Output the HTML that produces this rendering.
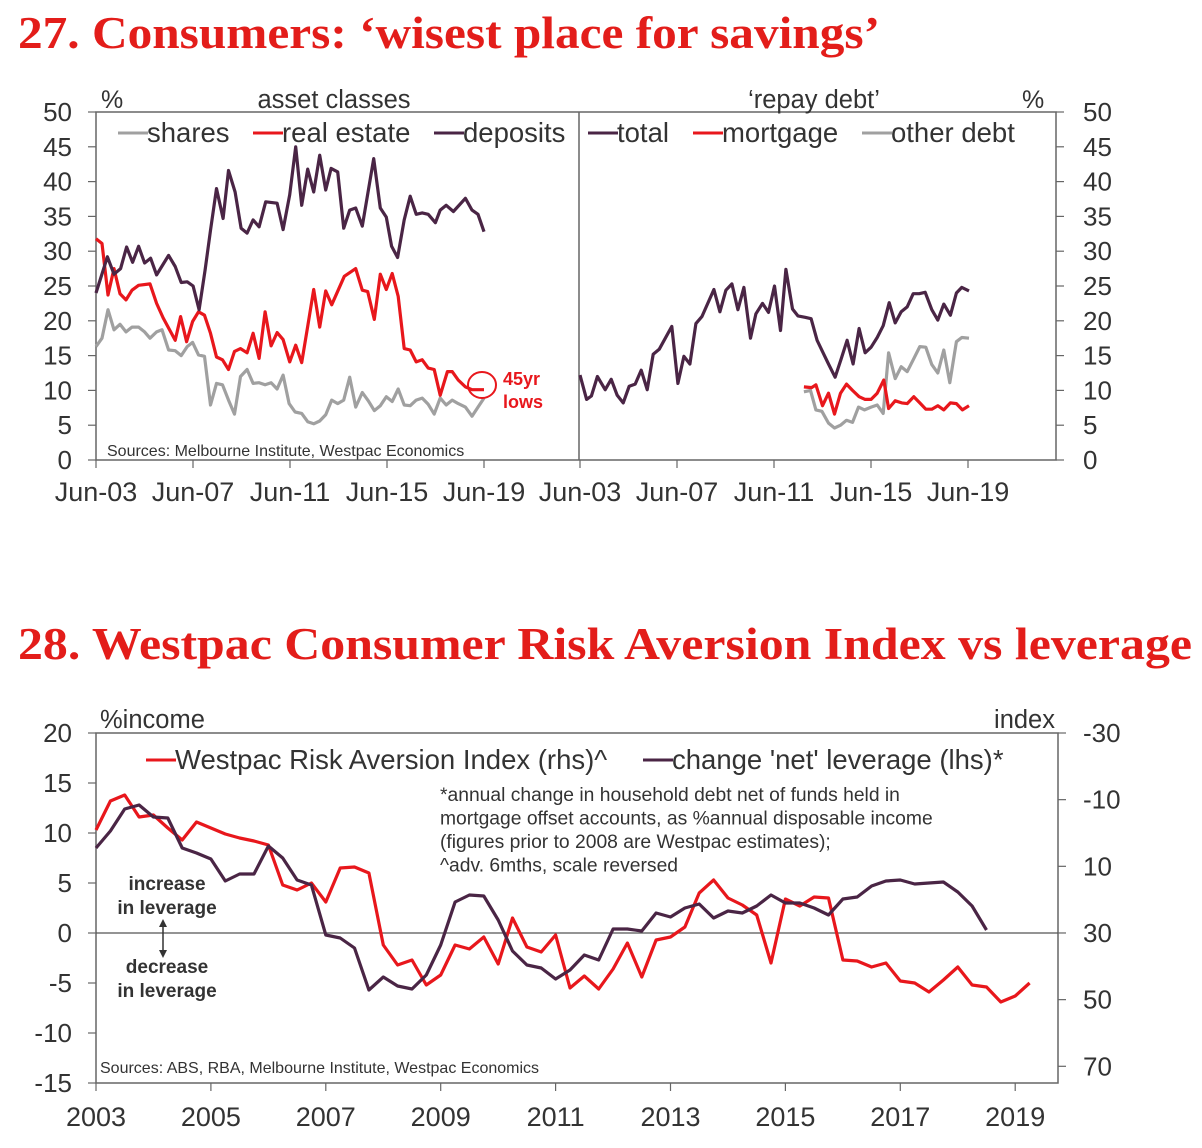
<!DOCTYPE html>
<html><head><meta charset="utf-8"><style>
html,body{margin:0;padding:0;background:#fff;}
svg{display:block;font-family:"Liberation Sans",Arial,sans-serif;}
.t{fill:#333;}
</style></head><body>
<svg id="c" width="1202" height="1148" viewBox="0 0 1202 1148" xmlns="http://www.w3.org/2000/svg">
<text x="18" y="48" font-family="Liberation Serif,serif" font-weight="bold" font-size="45" fill="#e31d1a" textLength="862" lengthAdjust="spacingAndGlyphs">27. Consumers: ‘wisest place for savings’</text>
<text x="18" y="659" font-family="Liberation Serif,serif" font-weight="bold" font-size="45" fill="#e31d1a" textLength="1174" lengthAdjust="spacingAndGlyphs">28. Westpac Consumer Risk Aversion Index vs leverage</text>
<g id="topg"></g>
<g id="botg"></g>
</svg>
<script>
// ---- Chart 27 data (x = quarters since Jun-03) ----
const depQ=[0,1.9,3,4.1,5.1,6.1,7.1,8.1,9.1,10.1,12.1,13.2,14.2,15.2,16.2,17.2,18.2,19.1,20.1,21.2,22.1,23.2,24.2,25.2,26.2,27.2,28.3,30.2,31.2,32.3,33.3,34.3,35.3,36.3,37.3,38.3,39.2,40.3,41.3,42.3,43.3,44.4,46.3,47.4,48.4,49.3,50.3,51.4,52.4,53.4,54.4,55.4,56.6,57.4,58.4,59.6,61.6,62.7,63.7,64.7];
const depV=[24.0,29.2,26.7,27.5,30.6,28.4,30.7,28.3,29.0,26.6,29.4,27.8,25.5,25.6,25.0,21.6,27.3,33.0,39.0,34.7,41.6,38.5,33.3,32.6,34.5,33.5,37.1,36.9,33.1,38.1,45.0,36.6,41.8,38.5,43.8,38.8,41.9,41.4,33.3,35.9,36.2,33.6,43.3,36.2,34.9,30.7,29.1,34.5,37.9,35.3,35.5,35.3,34.1,35.9,36.6,35.7,37.6,35.9,35.3,32.8];
const reQ=[0,1,2,3,4,5,6,7.1,9,10.1,11.2,13.2,14.1,15.1,16.1,17.1,18.1,19.1,20.1,21.1,22.1,23.1,24.1,25.2,26.2,27.2,28.2,29.2,30.2,31.2,32.3,33.3,34.3,35.3,36.3,37.3,38.3,39.3,41.4,43.3,44.4,45.3,46.4,47.4,48.4,49.4,50.4,51.4,52.4,53.4,54.4,55.4,56.4,57.4,58.6,59.4,60.4,61.6,62.7,64.7];
const reV=[31.8,31.1,23.7,27.5,23.9,23.0,24.4,25.1,25.3,22.5,20.4,17.2,20.6,17.0,19.9,21.3,20.8,18.2,14.8,14.4,13.0,15.6,16.0,15.4,18.2,14.6,21.3,16.4,18.3,17.3,14.1,16.5,14.0,19.2,24.5,19.1,24.3,22.3,26.4,27.5,24.4,24.2,20.2,26.7,24.5,26.8,23.5,16.0,15.8,14.1,14.4,13.2,13.0,9.3,12.7,12.7,11.5,10.5,10.1,10.1];
const shQ=[0,1,2,3,4,5,6,7.1,8.1,9,10.1,11,12.1,13.2,14.2,15.2,16.1,17.1,18.1,19.1,20.1,21.1,22.1,23.1,24.1,25.2,26.2,27.2,28.2,29.2,30.2,31.2,32.2,33.2,34.3,35.3,36.3,37.3,38.3,39.3,40.3,41.3,42.3,43.3,44.4,45.4,46.4,47.4,48.4,49.4,50.4,51.4,52.4,53.4,54.4,55.4,56.4,57.4,58.4,59.4,60.4,61.6,62.7,63.7,64.7];
const shV=[16.3,17.5,21.6,18.7,19.5,18.4,19.1,19.1,18.4,17.5,18.4,18.7,15.8,15.7,15.0,16.3,16.9,15.1,14.9,7.9,11.0,10.8,8.6,6.6,12.0,13.0,11.0,11.1,10.8,11.1,10.2,12.2,8.1,6.9,6.7,5.5,5.2,5.6,6.5,8.6,8.1,8.6,11.9,7.6,9.7,8.5,7.1,7.8,9.1,8.4,10.2,7.9,7.8,8.6,8.9,8.0,6.6,8.9,7.9,8.6,8.1,7.6,6.3,7.6,8.9];
const totQ=[0,1.1,1.9,2.9,4.2,5.2,6.2,7.2,8.2,9.2,10.2,11.2,12.2,13.2,15.3,16.3,17.3,18.3,19.3,20.3,22.3,23.3,24.3,25.3,26.3,27.3,28.4,29.3,30.4,31.4,32.4,33.4,34.3,35.4,36.3,37.5,38.5,39.5,40.5,41.4,42.5,43.5,44.5,45.5,46.5,47.5,48.5,49.5,50.5,51.5,52.5,53.5,54.5,55.5,56.5,57.5,58.6,59.6,60.6,61.7,62.7,63.6,64.8];
const totV=[12.2,8.7,9.2,12.0,10.1,11.6,9.3,8.2,10.6,10.9,12.9,10.1,15.2,15.9,19.2,11.0,14.9,13.8,19.6,20.6,24.5,21.3,24.4,25.3,21.6,24.8,17.5,21.0,22.5,21.2,25.0,18.6,27.4,21.7,20.7,20.5,20.3,17.2,15.4,13.8,11.9,14.5,17.2,13.8,18.9,15.4,16.2,17.6,19.3,22.6,19.7,21.3,22.0,23.9,23.9,24.1,21.6,20.1,22.4,20.8,24.0,24.8,24.3];
const mgQ=[37.3,38.6,39.3,40.4,41.4,42.4,43.4,44.4,45.4,46.5,47.5,48.5,49.5,50.6,51.4,52.5,53.6,54.5,55.6,56.6,57.6,58.6,59.6,60.6,61.7,62.7,63.7,64.8];
const mgV=[10.5,10.4,10.8,7.8,9.6,6.6,9.6,10.9,10.0,9.1,8.7,8.7,9.6,11.5,7.4,8.5,8.2,8.1,9.1,8.2,7.3,7.3,7.8,7.2,8.2,8.1,7.2,7.8];
const odQ=[37.3,38.4,39.3,40.3,41.4,42.4,43.4,44.4,45.4,46.4,47.4,48.5,49.5,50.5,51.4,52.5,53.5,54.5,55.5,56.6,57.6,58.6,59.6,60.6,61.6,62.7,63.6,64.8];
const odV=[9.8,10.0,7.2,7.0,5.3,4.6,5.0,5.7,5.4,7.6,7.2,7.6,7.9,6.7,15.4,11.7,13.4,12.7,14.4,16.3,16.2,13.7,12.5,15.8,11.1,17.0,17.6,17.5];
const topYTicks=[0,5,10,15,20,25,30,35,40,45,50];
const topXLabels=["Jun-03","Jun-07","Jun-11","Jun-15","Jun-19"];
const topXTickQ=[0,16,32,48,64];
// ---- Chart 28 data (decimal years) ----
const levYears=[];for(let i=0;i<63;i++)levYears.push(2003+i*0.25);
const levV=[8.5,10.2,12.4,12.8,11.6,11.5,8.5,8.0,7.4,5.2,5.9,5.9,8.7,7.5,5.3,4.8,-0.2,-0.5,-1.5,-5.7,-4.4,-5.3,-5.6,-4.2,-1.2,3.1,3.8,3.7,1.3,-1.8,-3.2,-3.5,-4.6,-3.7,-2.2,-2.7,0.4,0.4,0.2,2.0,1.6,2.5,2.9,1.5,2.2,2.0,2.7,3.8,3.0,3.0,2.5,1.8,3.4,3.6,4.7,5.2,5.3,4.9,5.0,5.1,4.1,2.7,0.3];
const raYears=[];for(let i=0;i<66;i++)raYears.push(2003+i*0.25);
const raV=[-0.9,-9.6,-11.4,-4.8,-5.4,-1.5,2.1,-3.3,-1.5,0.3,1.5,2.4,3.6,15.6,17.1,15.0,20.7,10.5,10.2,12.0,33.6,39.6,38.1,45.6,42.6,33.6,34.8,31.2,39.3,25.5,34.2,35.7,30.6,46.5,42.9,46.8,40.8,33.0,43.2,32.1,31.2,28.2,18.0,14.1,19.5,21.6,24.6,39.0,19.8,21.9,19.2,19.5,38.1,38.4,40.2,39.0,44.4,45.0,47.7,44.1,40.2,45.6,46.2,50.7,48.9,45.0];
const botLTicks=[-15,-10,-5,0,5,10,15,20];
const botRTicks=[-30,-10,10,30,50,70];
const botXTicks=[2003,2005,2007,2009,2011,2013,2015,2017,2019];

const NS="http://www.w3.org/2000/svg";
function mk(parent,tag,attrs,txt){const e=document.createElementNS(NS,tag);for(const k in attrs)e.setAttribute(k,attrs[k]);if(txt!==undefined)e.textContent=txt;parent.appendChild(e);return e;}
const topG=document.getElementById('topg'), botG=document.getElementById('botg');
const AX="#666";
// ---------- chart 27 ----------
const tY=v=>460-v*6.96;
const lX=q=>96+q*388/64.7;
const rX=q=>580+q*389/64.8;
const tickX=(base,q)=>base+q*388/64;
let e;
e=mk(topG,'rect',{x:96,y:112,width:960,height:348,fill:'none',stroke:AX,'stroke-width':1.5});


e=mk(topG,'line',{x1:579,y1:112,x2:579,y2:460,stroke:AX,'stroke-width':1.5});


topYTicks.forEach(v=>{
  mk(topG,'line',{x1:88,y1:tY(v),x2:96,y2:tY(v),stroke:AX,'stroke-width':1.2});
  mk(topG,'line',{x1:1056,y1:tY(v),x2:1064,y2:tY(v),stroke:AX,'stroke-width':1.2});
  e=mk(topG,'text',{x:72,y:tY(v)+9,'font-size':26,'text-anchor':'end',class:'t'},v);
  
  
  e=mk(topG,'text',{x:1083,y:tY(v)+9,'font-size':26,class:'t'},v);
  
  
});
[96,580].forEach((base,pi)=>{
  topXTickQ.forEach((q,i)=>{
    const x=tickX(base,q);
    mk(topG,'line',{x1:x,y1:460,x2:x,y2:468,stroke:AX,'stroke-width':1.2});
    e=mk(topG,'text',{x:x,y:501,'font-size':27,'text-anchor':'middle',class:'t'},topXLabels[i]);
    
    
  });
});
function line(parent,xs,ys,fx,fy,color,name){
  const d=xs.map((x,i)=>(i?'L':'M')+fx(x).toFixed(1)+','+fy(ys[i]).toFixed(1)).join('');
  const p=mk(parent,'path',{d:d,fill:'none',stroke:color,'stroke-width':3.2,'stroke-linejoin':'round'});
  
  
  return p;
}
const GR="#a0a0a0",RD="#e8171c",PU="#4a2545";
line(topG,shQ,shV,lX,tY,GR,'shares-line');
line(topG,reQ,reV,lX,tY,RD,'real-estate-line');
line(topG,depQ,depV,lX,tY,PU,'deposits-line');
line(topG,odQ,odV,rX,tY,GR,'other-debt-line');
line(topG,mgQ,mgV,rX,tY,RD,'mortgage-line');
line(topG,totQ,totV,rX,tY,PU,'total-line');
e=mk(topG,'ellipse',{cx:482,cy:385,rx:14,ry:13,fill:'none',stroke:RD,'stroke-width':2});


e=mk(topG,'text',{x:503,y:385,'font-size':18,'font-weight':'bold',fill:RD},'45yr');


e=mk(topG,'text',{x:503,y:408,'font-size':18,'font-weight':'bold',fill:RD},'lows');


e=mk(topG,'text',{x:101,y:108,'font-size':25,class:'t'},'%');


e=mk(topG,'text',{x:1022,y:108,'font-size':25,class:'t'},'%');


e=mk(topG,'text',{x:334,y:108,'font-size':25.5,'text-anchor':'middle',class:'t'},'asset classes');


e=mk(topG,'text',{x:814,y:108,'font-size':25.5,'text-anchor':'middle',class:'t'},'‘repay debt’');


const legs=[[118,'shares',GR],[253,'real estate',RD],[434,'deposits',PU],[588,'total',PU],[693,'mortgage',RD],[862,'other debt',GR]];
legs.forEach(l=>{
  const g=mk(topG,'g',{});
  
  
  mk(g,'line',{x1:l[0],y1:133,x2:l[0]+30,y2:133,stroke:l[2],'stroke-width':3});
  mk(g,'text',{x:l[0]+29,y:142,'font-size':27.5,class:'t'},l[1]);
});
e=mk(topG,'text',{x:107,y:456,'font-size':16,class:'t'},'Sources: Melbourne Institute, Westpac Economics');


// ---------- chart 28 ----------
const bX=yr=>96+(yr-2003)*57.45;
const bYL=v=>933-v*10;
const bYR=r=>733+(r+30)*3.333;
e=mk(botG,'rect',{x:96,y:733,width:962,height:350,fill:'none',stroke:AX,'stroke-width':1.5});


e=mk(botG,'line',{x1:96,y1:bYL(0),x2:1058,y2:bYL(0),stroke:'#555','stroke-width':1.2});


botLTicks.forEach(v=>{
  mk(botG,'line',{x1:88,y1:bYL(v),x2:96,y2:bYL(v),stroke:AX,'stroke-width':1.2});
  e=mk(botG,'text',{x:72,y:bYL(v)+9,'font-size':26,'text-anchor':'end',class:'t'},v);
  
  
});
botRTicks.forEach(v=>{
  mk(botG,'line',{x1:1058,y1:bYR(v),x2:1066,y2:bYR(v),stroke:AX,'stroke-width':1.2});
  e=mk(botG,'text',{x:1083,y:bYR(v)+9,'font-size':26,class:'t'},v);
  
  
});
botXTicks.forEach(yr=>{
  const x=bX(yr);
  mk(botG,'line',{x1:x,y1:1083,x2:x,y2:1091,stroke:AX,'stroke-width':1.2});
  e=mk(botG,'text',{x:x,y:1126,'font-size':27,'text-anchor':'middle',class:'t'},yr);
  
  
});
line(botG,raYears,raV,bX,bYR,RD,'risk-aversion-line');
line(botG,levYears,levV,bX,bYL,PU,'net-leverage-line');
e=mk(botG,'text',{x:100,y:728,'font-size':25.5,class:'t'},'%income');


e=mk(botG,'text',{x:1055,y:728,'font-size':25.5,'text-anchor':'end',class:'t'},'index');


let g=mk(botG,'g',{});


mk(g,'line',{x1:146,y1:760,x2:176,y2:760,stroke:RD,'stroke-width':3});
mk(g,'text',{x:175,y:769,'font-size':27.5,class:'t'},'Westpac Risk Aversion Index (rhs)^');
g=mk(botG,'g',{});


mk(g,'line',{x1:643,y1:760,x2:673,y2:760,stroke:PU,'stroke-width':3});
mk(g,'text',{x:672,y:769,'font-size':27.5,class:'t'},"change 'net' leverage (lhs)*");
const notes=["*annual change in household debt net of funds held in","mortgage offset accounts, as %annual disposable income","(figures prior to 2008 are Westpac estimates);","^adv. 6mths, scale reversed"];
notes.forEach((n,i)=>{
  e=mk(botG,'text',{x:440,y:801+i*23.5,'font-size':19.3,class:'t'},n);
  
  
});
[["increase",890],["in leverage",914],["decrease",973],["in leverage",997]].forEach(a=>{
  e=mk(botG,'text',{x:167,y:a[1],'font-size':19,'font-weight':'bold','text-anchor':'middle',class:'t'},a[0]);
  
  
});
e=mk(botG,'line',{x1:163,y1:921,x2:163,y2:956,stroke:'#333','stroke-width':1.5});


mk(botG,'path',{d:'M159,927 L163,919 L167,927 Z M159,950 L163,958 L167,950 Z',fill:'#333'});
e=mk(botG,'text',{x:100,y:1073,'font-size':16,class:'t'},'Sources: ABS, RBA, Melbourne Institute, Westpac Economics');


</script>
</body></html>
